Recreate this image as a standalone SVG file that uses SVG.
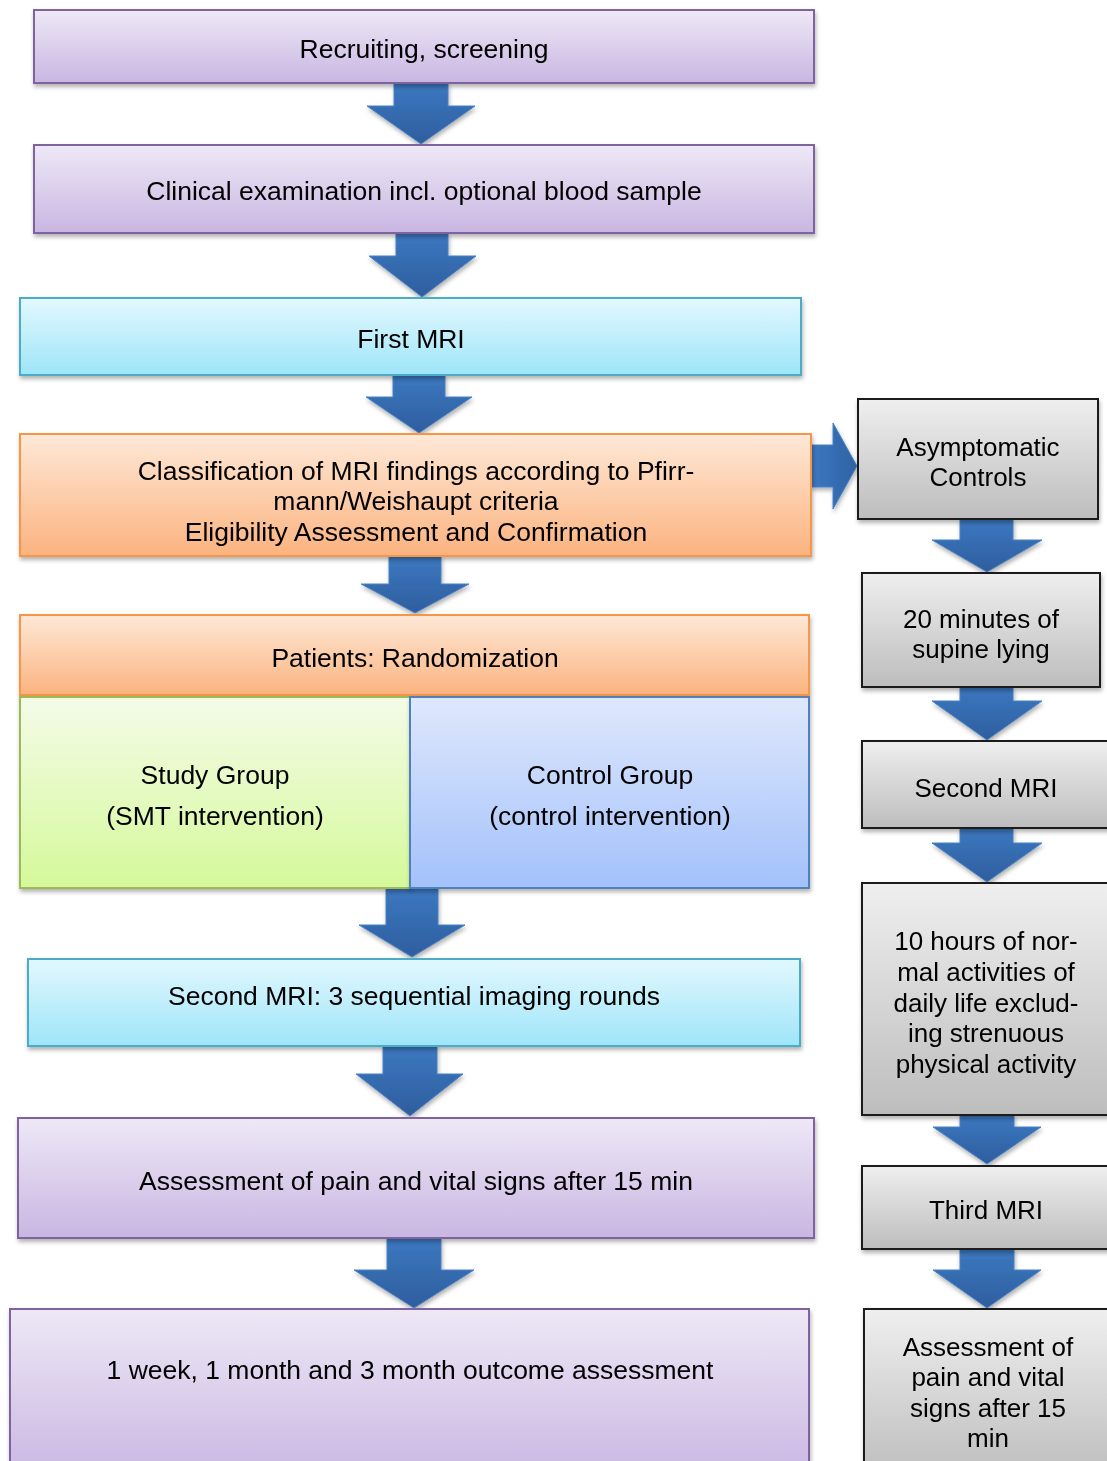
<svg xmlns="http://www.w3.org/2000/svg" width="1107" height="1461" viewBox="0 0 1107 1461">
<defs>
<linearGradient id="gP" x1="0" y1="0" x2="0" y2="1"><stop offset="0" stop-color="#EEE8F6"/><stop offset="1" stop-color="#C9B6E2"/></linearGradient>
<linearGradient id="gC" x1="0" y1="0" x2="0" y2="1"><stop offset="0" stop-color="#E3F8FE"/><stop offset="1" stop-color="#9EE5F9"/></linearGradient>
<linearGradient id="gO" x1="0" y1="0" x2="0" y2="1"><stop offset="0" stop-color="#FEE8D7"/><stop offset="1" stop-color="#FBB37F"/></linearGradient>
<linearGradient id="gG" x1="0" y1="0" x2="0" y2="1"><stop offset="0" stop-color="#F4FBE8"/><stop offset="1" stop-color="#D5F99A"/></linearGradient>
<linearGradient id="gB" x1="0" y1="0" x2="0" y2="1"><stop offset="0" stop-color="#DFE8FC"/><stop offset="1" stop-color="#A3C1FB"/></linearGradient>
<linearGradient id="gK" x1="0" y1="0" x2="0" y2="1"><stop offset="0" stop-color="#EFEFEF"/><stop offset="1" stop-color="#BDBDBD"/></linearGradient>
<linearGradient id="gA" x1="0" y1="0" x2="0" y2="1"><stop offset="0" stop-color="#3C78C0"/><stop offset="1" stop-color="#2E5E9E"/></linearGradient>
<linearGradient id="gAh" x1="0" y1="0" x2="1" y2="0"><stop offset="0" stop-color="#3C78C0"/><stop offset="1" stop-color="#2E62A4"/></linearGradient>
<filter id="sh" x="-5%" y="-10%" width="110%" height="130%"><feDropShadow dx="1" dy="3" stdDeviation="2" flood-color="#000" flood-opacity="0.3"/></filter>
</defs>
<style>
text{font-family:"Liberation Sans",Arial,sans-serif;font-size:26px;fill:#000;text-anchor:middle}
.L text{font-size:26.5px}
.p{fill:url(#gP);stroke:#7F63A1;stroke-width:2}
.c{fill:url(#gC);stroke:#4BACC6;stroke-width:2}
.o{fill:url(#gO);stroke:#F79646;stroke-width:2}
.g{fill:url(#gG);stroke:#9BBB59;stroke-width:2}
.b{fill:url(#gB);stroke:#4F81BD;stroke-width:2}
.k{fill:url(#gK);stroke:#1A1A1A;stroke-width:2}
.box{filter:url(#sh)}
.ar{fill:url(#gA);stroke:#4A82C6;stroke-width:1;filter:url(#sh)}
.arh{fill:url(#gAh);stroke:#4A82C6;stroke-width:1;filter:url(#sh)}
</style>

<g id="connectors">
<polygon class="ar" points="394,83 448,83 448,106 475,106 421,144 367,106 394,106"/>
<polygon class="ar" points="396,233 448,233 448,256 476,256 422,297 369,256 396,256"/>
<polygon class="ar" points="393,375 445,375 445,397 472,397 419,433 366,397 393,397"/>
<polygon class="ar" points="389,556 441,556 441,584 469,584 415,613 361,584 389,584"/>
<polygon class="ar" points="386,888 438,888 438,925 465,925 412,957 359,925 386,925"/>
<polygon class="ar" points="383,1046 437,1046 437,1074 463,1074 410,1116 356,1074 383,1074"/>
<polygon class="ar" points="387,1238 441,1238 441,1270 474,1270 414,1308 354,1270 387,1270"/>
<polygon class="arh" points="811,445 833,445 833,423 857,466 833,509 833,487 811,487"/>
<polygon class="ar" points="960,519 1013,519 1013,540 1042,540 987,572 932,540 960,540"/>
<polygon class="ar" points="960,687 1013,687 1013,701 1042,701 987,740 932,701 960,701"/>
<polygon class="ar" points="960,828 1013,828 1013,843 1042,843 987,882 932,843 960,843"/>
<polygon class="ar" points="960,1115 1014,1115 1014,1127 1041,1127 987,1164 933,1127 960,1127"/>
<polygon class="ar" points="960,1249 1014,1249 1014,1270 1041,1270 987,1308 933,1270 960,1270"/>
</g>

<g class="L">
<g id="n-recruit" class="box"><rect class="p" x="34" y="10" width="780" height="73"/><text x="424" y="58">Recruiting, screening</text></g>
<g id="n-clinical" class="box"><rect class="p" x="34" y="145" width="780" height="88"/><text x="424" y="200">Clinical examination incl. optional blood sample</text></g>
<g id="n-firstmri" class="box"><rect class="c" x="20" y="298" width="781" height="77"/><text x="411" y="348">First MRI</text></g>
<g id="n-classif" class="box"><rect class="o" x="20" y="434" width="791" height="122"/>
<text x="416" y="480">Classification of MRI findings according to Pfirr-</text>
<text x="416" y="510">mann/Weishaupt criteria</text>
<text x="416" y="541">Eligibility Assessment and Confirmation</text></g>
<g id="n-random" class="box"><rect class="o" x="20" y="615" width="789" height="80"/><text x="415" y="667">Patients: Randomization</text></g>
<g id="n-study" class="box"><rect class="g" x="20" y="697" width="390" height="191"/><text x="215" y="784">Study Group</text><text x="215" y="825">(SMT intervention)</text></g>
<g id="n-control" class="box"><rect class="b" x="410" y="697" width="399" height="191"/><text x="610" y="784">Control Group</text><text x="610" y="825">(control intervention)</text></g>
<g id="n-second" class="box"><rect class="c" x="28" y="959" width="772" height="87"/><text x="414" y="1005">Second MRI: 3 sequential imaging rounds</text></g>
<g id="n-assess" class="box"><rect class="p" x="18" y="1118" width="796" height="120"/><text x="416" y="1190">Assessment of pain and vital signs after 15 min</text></g>
<g id="n-outcome" class="box"><rect class="p" x="10" y="1309" width="799" height="170"/><text x="410" y="1379">1 week, 1 month and 3 month outcome assessment</text></g>
</g>

<g id="r-asym" class="box"><rect class="k" x="858" y="399" width="240" height="120"/><text x="978" y="456">Asymptomatic</text><text x="978" y="486">Controls</text></g>
<g id="r-supine" class="box"><rect class="k" x="862" y="573" width="238" height="114"/><text x="981" y="628">20 minutes of</text><text x="981" y="658">supine lying</text></g>
<g id="r-second" class="box"><rect class="k" x="862" y="741" width="250" height="87"/><text x="986" y="797">Second MRI</text></g>
<g id="r-tenh" class="box"><rect class="k" x="862" y="883" width="250" height="232"/>
<text x="986" y="950">10 hours of nor-</text>
<text x="986" y="981">mal activities of</text>
<text x="986" y="1012">daily life exclud-</text>
<text x="986" y="1042">ing strenuous</text>
<text x="986" y="1073">physical activity</text></g>
<g id="r-third" class="box"><rect class="k" x="862" y="1166" width="250" height="83"/><text x="986" y="1219">Third MRI</text></g>
<g id="r-assess" class="box"><rect class="k" x="864" y="1309" width="250" height="170"/>
<text x="988" y="1356">Assessment of</text>
<text x="988" y="1386">pain and vital</text>
<text x="988" y="1417">signs after 15</text>
<text x="988" y="1447">min</text></g>
</svg>
